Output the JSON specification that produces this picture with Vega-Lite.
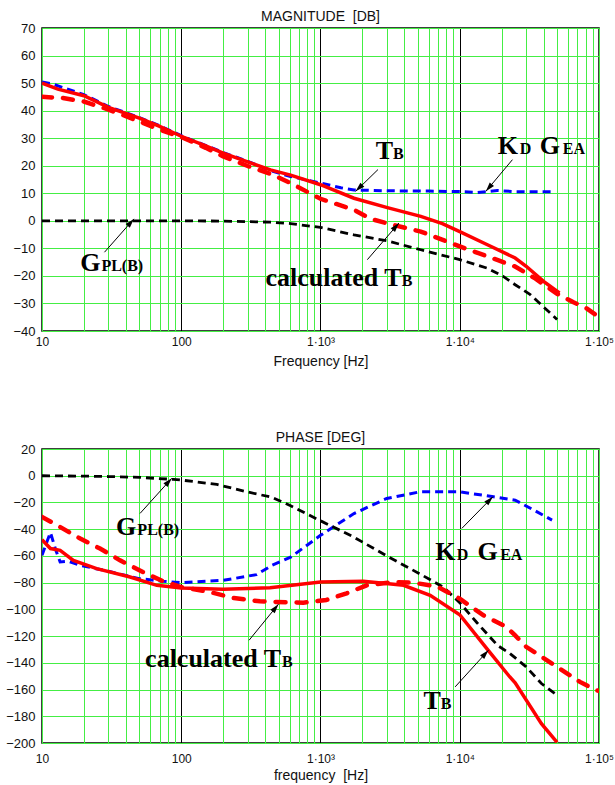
{
"$schema":"https://vega.github.io/schema/vega-lite/v6.json",
"padding":{"left":4,"top":9,"right":0,"bottom":0},
"spacing":61,
"config":{
 "view":{"stroke":"#000","strokeWidth":1.5},
 "font":"Liberation Sans",
 "title":{"font":"Liberation Sans","fontSize":14,"fontWeight":"normal","color":"#111","offset":-2,"anchor":"middle"},
 "axis":{"labelFont":"Liberation Sans","labelFontSize":13,"labelColor":"#111","titleFont":"Liberation Sans","titleFontSize":14,"titleFontWeight":"normal","titleColor":"#111","ticks":false,"domain":false,"grid":true,"gridColor":"#44ee44","gridWidth":1,"gridOpacity":1}
},
"datasets":{
 "mag":[
  {"s":"KG","f":10,"v":50.4},{"s":"KG","f":12,"v":49.6},{"s":"KG","f":20,"v":45.8},{"s":"KG","f":30,"v":41.5},{"s":"KG","f":50,"v":37.5},{"s":"KG","f":70,"v":34.5},{"s":"KG","f":100,"v":30.9},{"s":"KG","f":200,"v":24.8},{"s":"KG","f":300,"v":21.6},{"s":"KG","f":437,"v":18.2},{"s":"KG","f":610,"v":16.1},{"s":"KG","f":1000,"v":13.7},{"s":"KG","f":1400,"v":12.0},{"s":"KG","f":1740,"v":11.2},{"s":"KG","f":3020,"v":10.9},{"s":"KG","f":6000,"v":10.8},{"s":"KG","f":10000,"v":10.6},{"s":"KG","f":13400,"v":10.3},{"s":"KG","f":18600,"v":11.0},{"s":"KG","f":25000,"v":10.6},{"s":"KG","f":47400,"v":10.5},
  {"s":"GPL","f":10,"v":0},{"s":"GPL","f":100,"v":0},{"s":"GPL","f":200,"v":-0.1},{"s":"GPL","f":300,"v":-0.3},{"s":"GPL","f":437,"v":-0.5},{"s":"GPL","f":610,"v":-1.0},{"s":"GPL","f":1000,"v":-2.4},{"s":"GPL","f":1740,"v":-5.1},{"s":"GPL","f":3020,"v":-7.3},{"s":"GPL","f":5250,"v":-10.5},{"s":"GPL","f":10000,"v":-14.1},{"s":"GPL","f":15800,"v":-17.2},{"s":"GPL","f":20400,"v":-20.1},{"s":"GPL","f":25000,"v":-23.2},{"s":"GPL","f":32100,"v":-26.8},{"s":"GPL","f":50000,"v":-35.8},
  {"s":"TB","f":10,"v":50.0},{"s":"TB","f":13,"v":47.8},{"s":"TB","f":20,"v":45.4},{"s":"TB","f":30,"v":41.2},{"s":"TB","f":50,"v":37.3},{"s":"TB","f":70,"v":34.3},{"s":"TB","f":100,"v":30.7},{"s":"TB","f":150,"v":27.2},{"s":"TB","f":200,"v":24.6},{"s":"TB","f":300,"v":21.4},{"s":"TB","f":437,"v":18.5},{"s":"TB","f":610,"v":16.6},{"s":"TB","f":1000,"v":13.1},{"s":"TB","f":1740,"v":8.2},{"s":"TB","f":3020,"v":4.8},{"s":"TB","f":5250,"v":1.6},{"s":"TB","f":7500,"v":-1.0},{"s":"TB","f":10000,"v":-3.9},{"s":"TB","f":15800,"v":-8.7},{"s":"TB","f":25000,"v":-13.5},{"s":"TB","f":30000,"v":-16.5},{"s":"TB","f":40000,"v":-22.0},{"s":"TB","f":52000,"v":-26.2},
  {"s":"TBc","f":10,"v":45.0},{"s":"TBc","f":14,"v":44.6},{"s":"TBc","f":20,"v":43.3},{"s":"TBc","f":30,"v":40.4},{"s":"TBc","f":50,"v":36.1},{"s":"TBc","f":70,"v":33.1},{"s":"TBc","f":100,"v":30.4},{"s":"TBc","f":150,"v":26.5},{"s":"TBc","f":200,"v":23.4},{"s":"TBc","f":300,"v":19.9},{"s":"TBc","f":450,"v":16.8},{"s":"TBc","f":610,"v":13.7},{"s":"TBc","f":1000,"v":8.0},{"s":"TBc","f":1740,"v":4.0},{"s":"TBc","f":2300,"v":0.7},{"s":"TBc","f":3330,"v":-1.5},{"s":"TBc","f":5250,"v":-3.9},{"s":"TBc","f":10000,"v":-9.3},{"s":"TBc","f":15800,"v":-12.9},{"s":"TBc","f":25000,"v":-16.6},{"s":"TBc","f":35000,"v":-21.0},{"s":"TBc","f":50000,"v":-26.5},{"s":"TBc","f":65000,"v":-29.5},{"s":"TBc","f":80000,"v":-31.5},{"s":"TBc","f":100000,"v":-35.0}
 ],
 "ph":[
  {"s":"KG","f":10,"v":-59.5},{"s":"KG","f":10.8,"v":-50},{"s":"KG","f":11.5,"v":-42.5},{"s":"KG","f":12.5,"v":-55},{"s":"KG","f":13.5,"v":-64.5},{"s":"KG","f":15.5,"v":-64},{"s":"KG","f":18.7,"v":-67},{"s":"KG","f":30,"v":-71.5},{"s":"KG","f":49.8,"v":-77},{"s":"KG","f":74.2,"v":-79},{"s":"KG","f":100,"v":-80},{"s":"KG","f":200,"v":-78.3},{"s":"KG","f":347,"v":-74},{"s":"KG","f":450,"v":-67},{"s":"KG","f":610,"v":-61},{"s":"KG","f":1000,"v":-44.6},{"s":"KG","f":1740,"v":-28.3},{"s":"KG","f":2990,"v":-17},{"s":"KG","f":5200,"v":-12},{"s":"KG","f":10000,"v":-12},{"s":"KG","f":17500,"v":-15.8},{"s":"KG","f":25000,"v":-18.3},{"s":"KG","f":34000,"v":-25.7},{"s":"KG","f":46000,"v":-33.2},
  {"s":"GPL","f":10,"v":0},{"s":"GPL","f":20,"v":-0.3},{"s":"GPL","f":30,"v":-0.6},{"s":"GPL","f":50.6,"v":-1.25},{"s":"GPL","f":87.8,"v":-2.75},{"s":"GPL","f":100,"v":-3.25},{"s":"GPL","f":180,"v":-6.5},{"s":"GPL","f":295,"v":-12},{"s":"GPL","f":450,"v":-16.2},{"s":"GPL","f":610,"v":-22.5},{"s":"GPL","f":1000,"v":-33.7},{"s":"GPL","f":1740,"v":-46},{"s":"GPL","f":2990,"v":-60},{"s":"GPL","f":5200,"v":-73.6},{"s":"GPL","f":7640,"v":-83.5},{"s":"GPL","f":10000,"v":-95},{"s":"GPL","f":13300,"v":-110},{"s":"GPL","f":18700,"v":-127},{"s":"GPL","f":22900,"v":-133},{"s":"GPL","f":30000,"v":-143},{"s":"GPL","f":38600,"v":-155.5},{"s":"GPL","f":50000,"v":-164.3},
  {"s":"TB","f":10,"v":-47.8},{"s":"TB","f":11.5,"v":-54.5},{"s":"TB","f":13.5,"v":-55.8},{"s":"TB","f":16.8,"v":-63.3},{"s":"TB","f":24.7,"v":-69.5},{"s":"TB","f":42.9,"v":-75.8},{"s":"TB","f":66.8,"v":-82},{"s":"TB","f":100,"v":-84},{"s":"TB","f":200,"v":-85},{"s":"TB","f":434,"v":-83.8},{"s":"TB","f":1000,"v":-79.5},{"s":"TB","f":2030,"v":-79},{"s":"TB","f":3950,"v":-82},{"s":"TB","f":6130,"v":-89.5},{"s":"TB","f":10000,"v":-104},{"s":"TB","f":15700,"v":-129.5},{"s":"TB","f":22900,"v":-150.6},{"s":"TB","f":25000,"v":-155},{"s":"TB","f":38600,"v":-185.5},{"s":"TB","f":50000,"v":-199.5},
  {"s":"TBc","f":10,"v":-30.8},{"s":"TBc","f":12.8,"v":-37},{"s":"TBc","f":18.8,"v":-47},{"s":"TBc","f":26.1,"v":-54.5},{"s":"TBc","f":36.3,"v":-63.3},{"s":"TBc","f":53,"v":-72},{"s":"TBc","f":74,"v":-79},{"s":"TBc","f":100,"v":-83.3},{"s":"TBc","f":160,"v":-87},{"s":"TBc","f":237,"v":-91.5},{"s":"TBc","f":367,"v":-94},{"s":"TBc","f":486,"v":-94.5},{"s":"TBc","f":753,"v":-95},{"s":"TBc","f":1100,"v":-93},{"s":"TBc","f":1540,"v":-88},{"s":"TBc","f":2150,"v":-82},{"s":"TBc","f":3330,"v":-79.5},{"s":"TBc","f":4650,"v":-80},{"s":"TBc","f":6900,"v":-83},{"s":"TBc","f":10000,"v":-92},{"s":"TBc","f":14800,"v":-104.5},{"s":"TBc","f":21500,"v":-113},{"s":"TBc","f":25000,"v":-119.5},{"s":"TBc","f":30000,"v":-128},{"s":"TBc","f":50000,"v":-143},{"s":"TBc","f":73000,"v":-154.3},{"s":"TBc","f":95000,"v":-160.5},{"s":"TBc","f":100000,"v":-161}
 ],
 "magBig":[{"f":2490,"v":22.3,"t":"T"},{"f":18750,"v":24.2,"t":"K"},{"f":37600,"v":24.2,"t":"G"},{"f":18.85,"v":-18.3,"t":"G"},{"f":403,"v":-23.8,"t":"calculated T"}],
 "magSub":[{"f":3315,"v":22.3,"t":"B"},{"f":27000,"v":24.2,"t":"D"},{"f":55000,"v":24.2,"t":"EA"},{"f":26.7,"v":-18.3,"t":"PL(B)"},{"f":3830,"v":-23.8,"t":"B"}],
 "phBig":[{"f":34.0,"v":-44.4,"t":"G"},{"f":55.0,"v":-143.1,"t":"calculated T"},{"f":6660,"v":-63.1,"t":"K"},{"f":13400,"v":-63.1,"t":"G"},{"f":5490,"v":-174.2,"t":"T"}],
 "phSub":[{"f":48.4,"v":-44.4,"t":"PL(B)"},{"f":530,"v":-143.1,"t":"B"},{"f":9530,"v":-63.1,"t":"D"},{"f":19500,"v":-63.1,"t":"EA"},{"f":7310,"v":-174.2,"t":"B"}],
 "magArrows":[{"f":1788,"v":10.7,"f2":2586,"v2":18.6},{"f":15400,"v":10.7,"f2":23900,"v2":22.2},{"f":3660,"v":-0.8,"f2":2170,"v2":-14.1},{"f":45.7,"v":0.7,"f2":28.1,"v2":-11.4}],
 "phArrows":[{"f":85.5,"v":-1.9,"f2":50.6,"v2":-28.2},{"f":499,"v":-96.1,"f2":307,"v2":-123.1},{"f":17300,"v":-15.7,"f2":10350,"v2":-39.4},{"f":16070,"v":-130.6,"f2":9270,"v2":-158}]
},
"vconcat":[
 {
  "title":{"text":"MAGNITUDE\u00a0 [DB]"},
  "width":557,"height":303,
  "encoding":{
   "x":{"field":"f","type":"quantitative","scale":{"type":"log","domain":[10,100000],"nice":false},
    "axis":{"values":[10,20,30,40,50,60,70,80,90,100,200,300,400,500,600,700,800,900,1000,2000,3000,4000,5000,6000,7000,8000,9000,10000,20000,30000,40000,50000,60000,70000,80000,90000,100000],
     "labelExpr":"datum.value == 10 ? '10' : datum.value == 100 ? '100' : datum.value == 1000 ? '1·10³' : datum.value == 10000 ? '1·10⁴' : datum.value == 100000 ? '1·10⁵' : ''",
     "labelFontSize":12,"labelOverlap":false,"labelBound":false,"labelFlush":false,"labelPadding":5,"title":"Frequency [Hz]","titlePadding":7,
     "gridColor":{"condition":{"test":"datum.value == 100 || datum.value == 1000 || datum.value == 10000","value":"#000"},"value":"#44ee44"}}},
   "y":{"field":"v","type":"quantitative","scale":{"domain":[-40,70],"nice":false,"zero":false},
    "axis":{"values":[-40,-30,-20,-10,0,10,20,30,40,50,60,70],"title":null,"labelPadding":7,"minExtent":37}}
  },
  "layer":[
   {"data":{"name":"mag"},"transform":[{"filter":"datum.s == 'KG'"}],"mark":{"type":"line","color":"#0000ff","strokeWidth":3,"strokeDash":[8,5],"clip":true}},
   {"data":{"name":"mag"},"transform":[{"filter":"datum.s == 'GPL'"}],"mark":{"type":"line","color":"#000","strokeWidth":2.8,"strokeDash":[8,5],"clip":true}},
   {"data":{"name":"mag"},"transform":[{"filter":"datum.s == 'TB'"}],"mark":{"type":"line","color":"#ff0000","strokeWidth":3.5,"clip":true}},
   {"data":{"name":"mag"},"transform":[{"filter":"datum.s == 'TBc'"}],"mark":{"type":"line","color":"#ff0000","strokeWidth":4.5,"strokeDash":[10,11],"strokeCap":"round","clip":true}},
   {"data":{"name":"magArrows"},"mark":{"type":"rule","color":"#000","strokeWidth":1},"encoding":{"x2":{"field":"f2"},"y2":{"field":"v2"}}},
   {"data":{"name":"magArrows"},"transform":[{"calculate":"atan2((log(datum.f)-log(datum.f2))/LN10*139.25, (datum.v-datum.v2)*2.7545)*180/PI","as":"ang"}],
    "mark":{"type":"point","shape":"M0,0L-0.3,1L0.3,1Z","filled":true,"size":350,"color":"#000","opacity":1,"strokeWidth":0},
    "encoding":{"angle":{"field":"ang","type":"quantitative","scale":null}}},
   {"data":{"name":"magBig"},"mark":{"type":"text","font":"Liberation Serif","fontWeight":"bold","fontSize":26,"align":"left","baseline":"alphabetic","color":"#000"},"encoding":{"text":{"field":"t","type":"nominal"}}},
   {"data":{"name":"magSub"},"mark":{"type":"text","font":"Liberation Serif","fontWeight":"bold","fontSize":16,"align":"left","baseline":"alphabetic","color":"#000"},"encoding":{"text":{"field":"t","type":"nominal"}}}
  ]
 },
 {
  "title":{"text":"PHASE [DEG]"},
  "width":557,"height":294,
  "encoding":{
   "x":{"field":"f","type":"quantitative","scale":{"type":"log","domain":[10,100000],"nice":false},
    "axis":{"values":[10,20,30,40,50,60,70,80,90,100,200,300,400,500,600,700,800,900,1000,2000,3000,4000,5000,6000,7000,8000,9000,10000,20000,30000,40000,50000,60000,70000,80000,90000,100000],
     "labelExpr":"datum.value == 10 ? '10' : datum.value == 100 ? '100' : datum.value == 1000 ? '1·10³' : datum.value == 10000 ? '1·10⁴' : datum.value == 100000 ? '1·10⁵' : ''",
     "labelFontSize":12,"labelOverlap":false,"labelBound":false,"labelFlush":false,"labelPadding":10,"title":"frequency\u00a0 [Hz]","titlePadding":4,
     "gridColor":{"condition":{"test":"datum.value == 100 || datum.value == 1000 || datum.value == 10000","value":"#000"},"value":"#44ee44"}}},
   "y":{"field":"v","type":"quantitative","scale":{"domain":[-200,20],"nice":false,"zero":false},
    "axis":{"values":[-200,-180,-160,-140,-120,-100,-80,-60,-40,-20,0,20],"title":null,"labelPadding":7,"minExtent":37}}
  },
  "layer":[
   {"data":{"name":"ph"},"transform":[{"filter":"datum.s == 'KG'"}],"mark":{"type":"line","color":"#0000ff","strokeWidth":3,"strokeDash":[8,5],"clip":true}},
   {"data":{"name":"ph"},"transform":[{"filter":"datum.s == 'GPL'"}],"mark":{"type":"line","color":"#000","strokeWidth":2.8,"strokeDash":[8,5],"clip":true}},
   {"data":{"name":"ph"},"transform":[{"filter":"datum.s == 'TB'"}],"mark":{"type":"line","color":"#ff0000","strokeWidth":3.5,"clip":true}},
   {"data":{"name":"ph"},"transform":[{"filter":"datum.s == 'TBc'"}],"mark":{"type":"line","color":"#ff0000","strokeWidth":4.5,"strokeDash":[10,11],"strokeCap":"round","clip":true}},
   {"data":{"name":"phArrows"},"mark":{"type":"rule","color":"#000","strokeWidth":1},"encoding":{"x2":{"field":"f2"},"y2":{"field":"v2"}}},
   {"data":{"name":"phArrows"},"transform":[{"calculate":"atan2((log(datum.f)-log(datum.f2))/LN10*139.25, (datum.v-datum.v2)*1.33636)*180/PI","as":"ang"}],
    "mark":{"type":"point","shape":"M0,0L-0.3,1L0.3,1Z","filled":true,"size":350,"color":"#000","opacity":1,"strokeWidth":0},
    "encoding":{"angle":{"field":"ang","type":"quantitative","scale":null}}},
   {"data":{"name":"phBig"},"mark":{"type":"text","font":"Liberation Serif","fontWeight":"bold","fontSize":26,"align":"left","baseline":"alphabetic","color":"#000"},"encoding":{"text":{"field":"t","type":"nominal"}}},
   {"data":{"name":"phSub"},"mark":{"type":"text","font":"Liberation Serif","fontWeight":"bold","fontSize":16,"align":"left","baseline":"alphabetic","color":"#000"},"encoding":{"text":{"field":"t","type":"nominal"}}}
  ]
 }
]
}
